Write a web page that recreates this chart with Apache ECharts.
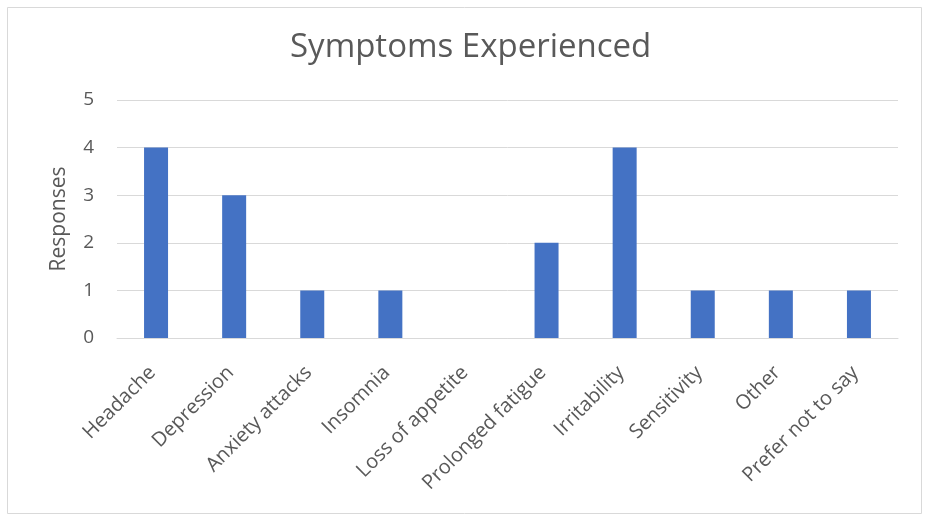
<!DOCTYPE html>
<html>
<head>
<meta charset="utf-8">
<script src="https://cdn.jsdelivr.net/npm/echarts@6/dist/echarts.min.js"></script>
<style>
  html, body { margin: 0; padding: 0; background: #ffffff; }
  #chart { width: 927px; height: 514px; }
</style>
</head>
<body>
<div id="chart"></div>
<script>
// Survey responses per symptom
const categories = ['Headache', 'Depression', 'Anxiety attacks', 'Insomnia', 'Loss of appetite',
  'Prolonged fatigue', 'Irritability', 'Sensitivity', 'Other', 'Prefer not to say'];
const responses = [4, 3, 1, 1, 0, 2, 4, 1, 1, 1];
const yTicks = [0, 1, 2, 3, 4, 5];

const textColor = '#595959';
const fontFamily = "'Open Sans', 'Liberation Sans', sans-serif";

const chart = echarts.init(document.getElementById('chart'), null, { renderer: 'canvas' });
chart.setOption({
  animation: false,
  backgroundColor: '#ffffff',
  graphic: [{
    type: 'rect',
    left: 5, top: 5,
    shape: { width: 914, height: 506 },
    style: { fill: 'none', stroke: '#d9d9d9', lineWidth: 1 },
    silent: true
  }],
  title: {
    text: 'Symptoms Experienced',
    left: 285,
    top: 26,
    textStyle: { color: textColor, fontFamily: fontFamily, fontSize: 33, fontWeight: 'normal' }
  },
  grid: { left: 117, right: 29, top: 100, bottom: 176 },
  xAxis: {
    type: 'category',
    data: categories,
    axisTick: { show: false },
    axisLine: { lineStyle: { color: '#d9d9d9', width: 1 } },
    axisLabel: {
      interval: 0, rotate: 45, margin: 28, padding: [0, 5, 0, 0],
      color: textColor, fontFamily: fontFamily, fontSize: 20
    }
  },
  yAxis: {
    type: 'value',
    min: yTicks[0], max: yTicks[yTicks.length - 1], interval: 1,
    name: 'Responses',
    nameLocation: 'middle',
    nameGap: 47,
    nameRotate: 90,
    nameTextStyle: { color: textColor, fontFamily: fontFamily, fontSize: 21 },
    axisLine: { show: false },
    axisTick: { show: false },
    splitLine: { lineStyle: { color: '#d9d9d9', width: 1 } },
    axisLabel: { color: textColor, fontFamily: fontFamily, fontSize: 19, margin: 23 }
  },
  series: [{
    type: 'bar',
    data: responses,
    barWidth: 24,
    itemStyle: { color: '#4472c4' }
  }]
});
</script>
</body>
</html>
